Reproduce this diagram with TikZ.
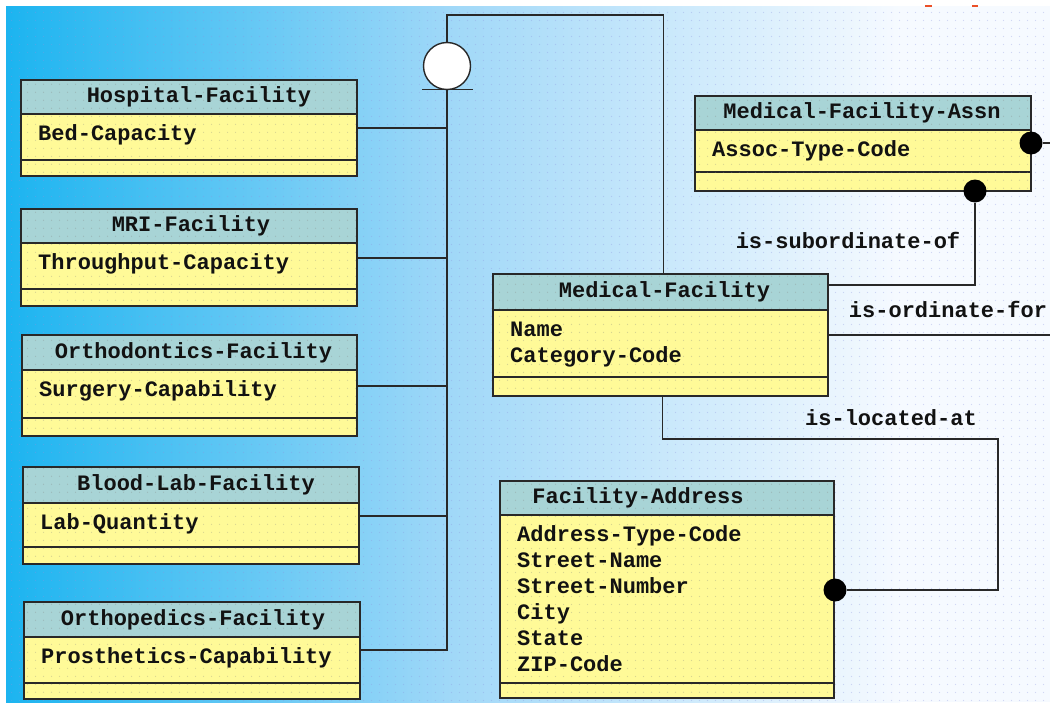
\documentclass[tikz,border=0pt]{standalone}
\usepackage{fontspec}
\newfontfamily\erfont{Liberation Mono}
\usetikzlibrary{calc,fit,patterns.meta}

\definecolor{hdrfill}{RGB}{168,212,214}
\definecolor{bodyfill}{RGB}{255,250,152}
\definecolor{edge}{RGB}{40,40,40}
\definecolor{ink}{RGB}{18,18,18}
\definecolor{skyA}{RGB}{28,180,240}
\definecolor{skyB}{RGB}{160,216,248}
\definecolor{skyC}{RGB}{246,250,255}
\definecolor{dotc}{RGB}{140,150,225}
\definecolor{redtick}{RGB}{235,80,40}

% fine dot grid used as a texture on the canvas and inside the boxes
\tikzdeclarepattern{
  name=griddots,
  type=uncolored,
  bounding box={(0pt,0pt) and (8pt,8pt)},
  tile size={(8pt,8pt)},
  code={\fill (4pt,4pt) circle (0.75pt);}
}

\tikzset{
  ertext/.style={font=\erfont\bfseries\fontsize{22}{26}\selectfont, text=ink},
  boxbase/.style={rectangle, draw=edge, line width=1.4pt, inner sep=0pt, outer sep=0pt},
  hdrbox/.style={boxbase, fill=hdrfill,
    postaction={pattern=griddots, pattern color=gray, fill opacity=0.3}},
  bodybox/.style={boxbase, fill=bodyfill,
    postaction={pattern=griddots, pattern color=gray, fill opacity=0.3}},
  outline/.style={rectangle, draw=edge, line width=1.6pt, inner sep=0pt, outer sep=0pt},
  titletext/.style={ertext, inner sep=0pt},
  attrtext/.style={ertext, inner sep=0pt, anchor=base west},
  reltext/.style={ertext, inner sep=0pt},
  conn/.style={draw=edge, line width=1.6pt},
  dot/.style={circle, fill=black, minimum size=23pt, inner sep=0pt, outer sep=0pt},
  genmark/.style={circle, draw=edge, line width=1.4pt, fill=white, minimum size=47pt, inner sep=0pt, outer sep=0pt}
}

% #1 title shift, #2 id, #3 top-left corner, #4 width,
% #5 header height, #6 attribute height, #7 bottom height, #8 title, #9 attributes
\newcommand\erentity[9][0]{%
  \node[hdrbox, minimum width=#4pt, minimum height=#5pt, anchor=north west] (#2-h) at #3 {};
  \node[titletext] (#2-title) at ($(#2-h.center)+(#1,0)$) {#8};
  \node[bodybox, minimum width=#4pt, minimum height=#6pt, anchor=north west] (#2-a) at (#2-h.south west) {};
  \node[bodybox, minimum width=#4pt, minimum height=#7pt, anchor=north west] (#2-b) at (#2-a.south west) {};
  \foreach \t [count=\i from 0] in {#9}
    \node[attrtext] (#2-t\i) at ($(#2-a.north west)+(17,26+26*\i)$) {\t};
  \node[outline, fit=(#2-h)(#2-b)] (#2) {};
}

\begin{document}
\begin{tikzpicture}[x=1pt, y=-1pt]
\useasboundingbox (0,0) rectangle (1050,704);

% canvas: sky-blue wash fading to white, with a dot grid
\fill[white] (0,0) rectangle (1050,704);
\shade[left color=skyA, right color=skyB] (6,6) rectangle (450,702);
\shade[left color=skyB, right color=skyC] (450,6) rectangle (900,702);
\fill[skyC] (900,6) rectangle (1050,702);
\fill[pattern=griddots, pattern color=dotc, fill opacity=0.35] (6,6) rectangle (1050,702);
\draw[redtick, line width=1.3pt] (925,6) -- (932,6);
\draw[redtick, line width=1.3pt] (972,6) -- (978,6);

% subtype entities
\erentity[10]{hosp}{(21,80)}{336}{34}{46}{16}{Hospital-Facility}{Bed-Capacity}
\erentity[2]{mri}{(21,209)}{336}{34}{46}{17}{MRI-Facility}{Throughput-Capacity}
\erentity[4]{orth}{(22,335)}{335}{35}{48}{18}{Orthodontics-Facility}{Surgery-Capability}
\erentity[5]{blood}{(23,467)}{336}{36}{44}{17}{Blood-Lab-Facility}{Lab-Quantity}
\erentity[1]{orpd}{(24,602)}{336}{35}{46}{16}{Orthopedics-Facility}{Prosthetics-Capability}

% supertype and related entities
\erentity[4]{medf}{(493,274)}{335}{36}{67}{19}{Medical-Facility}{Name,Category-Code}
\erentity[-29]{faddr}{(500,481)}{334}{34}{168}{15}{Facility-Address}{Address-Type-Code,Street-Name,Street-Number,City,State,ZIP-Code}
\erentity[-1]{assn}{(695,96)}{336}{34}{42}{19}{Medical-Facility-Assn}{Assoc-Type-Code}

% generalization symbol
\node[genmark] (gen) at (447,66) {};
\coordinate (genTop) at (447,15);

% subtypes joined to the generalization bus
\draw[conn] ($(hosp-a.north east)+(0,14)$) -| (gen.south);
\draw[conn] ($(mri-a.north east)+(0,15)$) -| (gen.south);
\draw[conn] ($(orth-a.north east)+(0,16)$) -| (gen.south);
\draw[conn] ($(blood-a.north east)+(0,13)$) -| (gen.south);
\draw[conn] ($(orpd-a.north east)+(0,13)$) -| (gen.south);
\draw[conn] ($(gen.south)+(-25,0)$) -- ($(gen.south)+(26,0)$);

% generalization to the supertype
\draw[conn] (gen.north) -- (genTop) -| ($(medf.north)+(3,0)$);

% relationship ends
\node[dot] (assnR) at ($(assn-a.north east)+(0,13)$) {};
\node[dot] (assnB) at ($(assn.south east)+(-56,0)$) {};
\node[dot] (faddrR) at ($(faddr.north east)+(1,109)$) {};
\coordinate (offAssn) at (1050,143);
\coordinate (offOrd) at (1050,335);
\coordinate (locBend) at (998,439);

\draw[conn] (assnR) -- (offAssn);
\draw[conn] ($(medf.north east)+(0,11)$) -| (assnB);
\draw[conn] ($(medf.north east)+(0,61)$) -- (offOrd);
\draw[conn] ($(medf.south)+(2,0)$) |- (locBend) |- (faddrR);

% relationship names
\node[reltext] (relSub) at (848,240) {is-subordinate-of};
\node[reltext] (relOrd) at (948,309) {is-ordinate-for};
\node[reltext] (relLoc) at (891,418) {is-located-at};

\end{tikzpicture}
\end{document}
